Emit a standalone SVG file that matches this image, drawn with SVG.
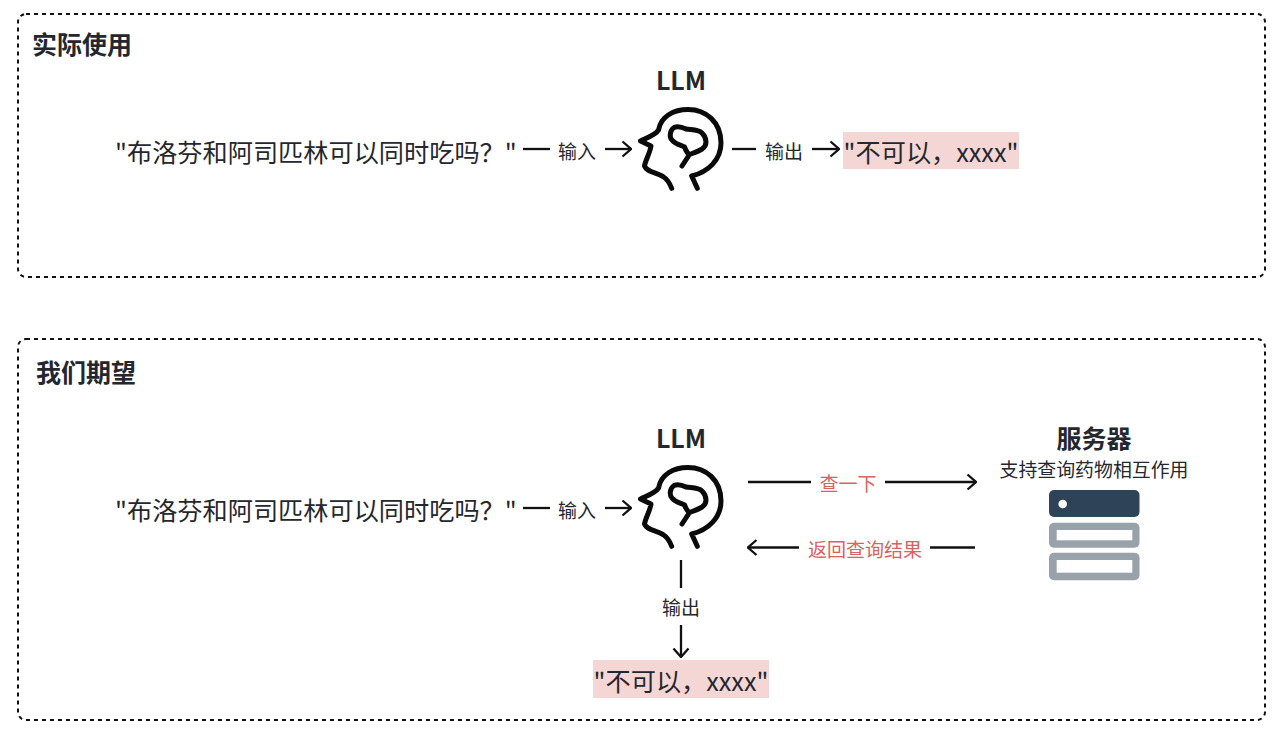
<svg xmlns="http://www.w3.org/2000/svg" width="1286" height="739" viewBox="0 0 1286 739">
<style>
text{font-family:"Noto Sans CJK SC","Noto Sans",sans-serif;fill:#24272e}
.frame{fill:none;stroke:#111;stroke-width:2;stroke-dasharray:4 4}
.title{font-size:25px;font-weight:700}
.llm{font-size:25px;font-weight:700;text-anchor:middle}
.q{font-size:25.200px}
.lbl{font-size:19px;text-anchor:middle}
.red{fill:#d9625e}
.hl{fill:#f4d6d4}
.c{fill:none;stroke:#111;stroke-width:2.300}
</style>
<defs>
<g id="head" fill="none" stroke="#0a0a0a" stroke-width="5" stroke-linecap="round" stroke-linejoin="round">
<path d="M697.300 188.300 L691.700 176 C708 172 721 160 721 143 C721 122 706 109.500 688 109.500 C674 109.500 661 116 658.500 130 C656 134.500 649 137 640.500 141 L651 146 C650 153 645.500 160 644.500 166 C647 172 655 172 663 176.500 C667 179 670 184 671.700 188.300"/>
<path d="M682 166 L689.500 154.500 C699 151 706 149 706 142 C706 137 704 135 702 133 C698 129 691 130 686 129 C682 127 678 125.500 674 127.500 C670 130 669 137 672 140 C676 145 681 145 684.500 147 C686 151 687 153 689.500 154.500"/>
</g>
<marker id="arr" markerWidth="14" markerHeight="20" refX="13" refY="10" orient="auto" markerUnits="userSpaceOnUse"><path d="M4.500 2.500 L13 10 L4.500 17.500" fill="none" stroke="#111" stroke-width="2.300"/></marker>
</defs>
<g id="frame-actual"><rect class="frame" x="18" y="14" width="1247" height="263" rx="8"/><text class="title" x="32" y="54">实际使用</text></g>
<g id="frame-expected"><rect class="frame" x="18" y="339" width="1247" height="381" rx="8"/><text class="title" x="36" y="382">我们期望</text></g>
<g id="connectors">
<path class="c" d="M523 149 H550"/>
<path class="c" d="M605 149 H631" marker-end="url(#arr)"/>
<path class="c" d="M732 149 H756"/>
<path class="c" d="M812 149 H839" marker-end="url(#arr)"/>
<path class="c" d="M523 508 H550"/>
<path class="c" d="M605 508 H631" marker-end="url(#arr)"/>
<path class="c" d="M748 482 H811"/>
<path class="c" d="M885 482 H976" marker-end="url(#arr)"/>
<path class="c" d="M975 547.500 H930"/>
<path class="c" d="M799 547.500 H748" marker-end="url(#arr)"/>
<path class="c" d="M681 560 V588"/>
<path class="c" d="M681 625 V657" marker-end="url(#arr)"/>
</g>
<g id="labels">
<text class="lbl" x="577" y="159">输入</text>
<text class="lbl" x="784" y="159">输出</text>
<text class="lbl" x="577" y="517.500">输入</text>
<text class="lbl red" x="848" y="490.500">查一下</text>
<text class="lbl red" x="865" y="556.500">返回查询结果</text>
<text class="lbl" x="681" y="615">输出</text>
</g>
<g id="query-1"><text class="q" x="115" y="161.500">"布洛芬和阿司匹林可以同时吃吗？"</text></g>
<g id="llm-1"><text class="llm" x="681" y="89.500">LLM</text><use href="#head"/></g>
<g id="answer-1"><rect class="hl" x="843" y="132" width="176" height="37"/><text class="q" x="931" y="161.500" text-anchor="middle">"不可以，xxxx"</text></g>
<g id="query-2"><text class="q" x="115" y="519.500">"布洛芬和阿司匹林可以同时吃吗？"</text></g>
<g id="llm-2"><text class="llm" x="681" y="447.500">LLM</text><use href="#head" y="358"/></g>
<g id="answer-2"><rect class="hl" x="593" y="660" width="176" height="38"/><text class="q" x="681" y="690.500" text-anchor="middle">"不可以，xxxx"</text></g>
<g id="server">
<text x="1094" y="448" text-anchor="middle" font-size="25" font-weight="700">服务器</text>
<text x="1094" y="476.500" text-anchor="middle" font-size="18.900">支持查询药物相互作用</text>
<rect x="1049" y="490" width="90.500" height="27" rx="5" fill="#2f4358"/>
<circle cx="1062.700" cy="504" r="4.300" fill="#fff"/>
<rect x="1049" y="522.700" width="90.500" height="25" rx="5" fill="#98a2aa"/>
<rect x="1056.700" y="530" width="75.600" height="10.300" fill="#fff"/>
<rect x="1049" y="552.700" width="90.500" height="27.600" rx="5" fill="#98a2aa"/>
<rect x="1056.700" y="560" width="75.600" height="12.700" fill="#fff"/>
</g>
</svg>
